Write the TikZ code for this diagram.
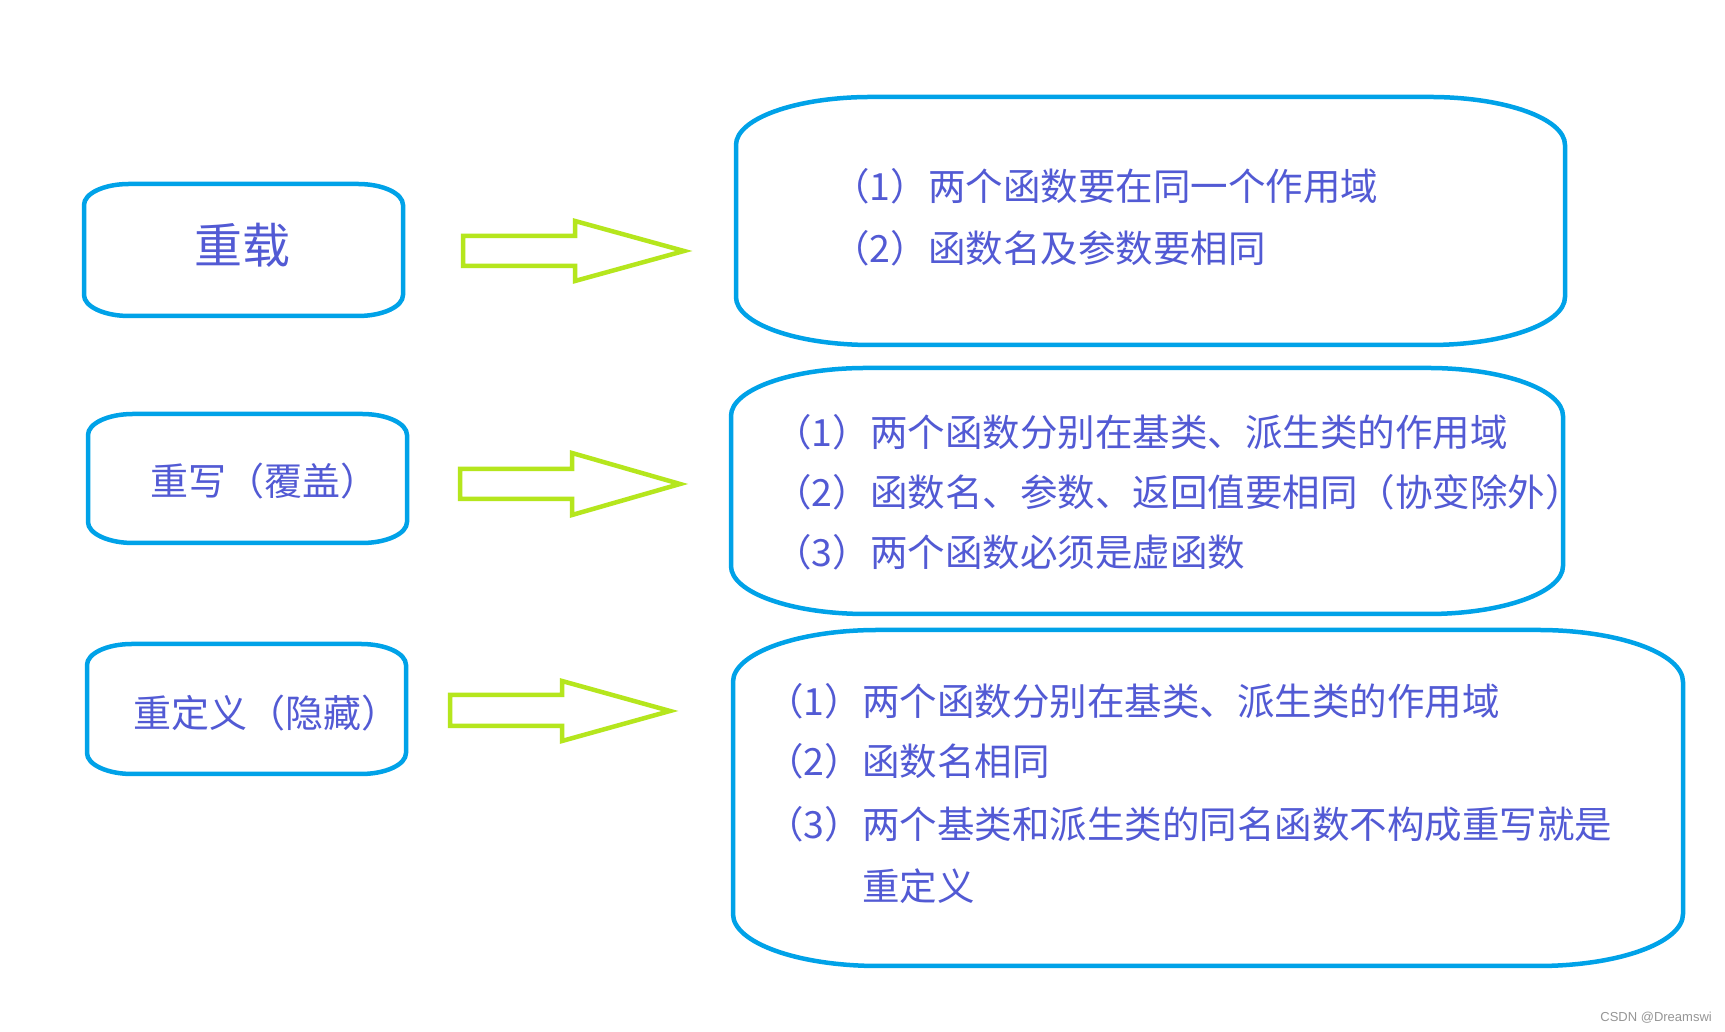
\documentclass[tikz,border=0pt]{standalone}
\usepackage{fontspec}
\newfontfamily\cjk{Noto Sans CJK SC}
\newfontfamily\wmfont{Liberation Sans}
\definecolor{boxblue}{RGB}{0,162,232}
\definecolor{arrowgreen}{RGB}{181,230,29}
\definecolor{txtblue}{RGB}{82,90,212}
\definecolor{wmgray}{RGB}{150,150,150}
% oval frame: x1 y1 x2 y2 (y measured downward) rx ry
\newcommand\ovalframe[6]{%
  \draw[boxline] ({#1+#5},{1032-#2}) -- ({#3-#5},{1032-#2})
    arc[start angle=90,end angle=0,x radius=#5pt,y radius=#6pt]
    -- ({#3},{1032-#4+#6})
    arc[start angle=0,end angle=-90,x radius=#5pt,y radius=#6pt]
    -- ({#1+#5},{1032-#4})
    arc[start angle=270,end angle=180,x radius=#5pt,y radius=#6pt]
    -- ({#1},{1032-#2-#6})
    arc[start angle=180,end angle=90,x radius=#5pt,y radius=#6pt]
    -- cycle;}
% block arrow: xl ytop ybot xhead yheadtop yheadbot xtip ytip
\newcommand\blockarrow[8]{%
  \draw[arrowline] (#1,{1032-#2}) -- (#4,{1032-#2}) -- (#4,{1032-#5})
    -- (#7,{1032-#8}) -- (#4,{1032-#6}) -- (#4,{1032-#3})
    -- (#1,{1032-#3}) -- cycle;}
\begin{document}
\begin{tikzpicture}[x=1pt,y=1pt,
  boxline/.style={draw=boxblue,line width=4.5pt},
  arrowline/.style={draw=arrowgreen,line width=4.5pt,line join=miter},
  txt/.style={text=txtblue,inner sep=0pt,anchor=west},
  bigB/.style={txt,font=\cjk\fontsize{37.5}{45}\selectfont},
  small/.style={txt,font=\cjk\fontsize{38}{45}\selectfont}]
\fill[white] (0,0) rectangle (1725,1032);
\useasboundingbox (0,0) rectangle (1725,1032);

% left frames
\ovalframe{84}{184}{403}{316}{45}{21}
\ovalframe{88}{414}{407}{543}{45}{21}
\ovalframe{87}{644}{406}{774}{45}{21}
% right frames
\ovalframe{736}{97}{1565}{345}{135}{48}
\ovalframe{731}{368}{1563}{614}{135}{48}
\ovalframe{733}{630}{1683}{966}{145}{52}

% arrows
\blockarrow{463}{236}{266}{575}{221}{281}{684}{251}
\blockarrow{460}{469}{499}{572}{453}{515}{680}{484}
\blockarrow{450}{695}{726}{562}{681}{741}{670}{711}

% left texts
\node[txt,anchor=center,font=\cjk\fontsize{48}{56}\selectfont] (t1) at (242,{1032-245}) {重载};
\node[small] (t2) at (150,{1032-481}) {重写（覆盖）};
\node[small] (t3) at (133,{1032-713}) {重定义（隐藏）};

% right texts
\node[bigB] (a1) at (832,{1032-186}) {（1）两个函数要在同一个作用域};
\node[bigB] (a2) at (832,{1032-248}) {（2）函数名及参数要相同};

\node[bigB] (b1) at (774,{1032-432}) {（1）两个函数分别在基类、派生类的作用域};
\node[bigB] (b2) at (774,{1032-492}) {（2）函数名、参数、返回值要相同（协变除外）};
\node[bigB] (b3) at (774,{1032-552}) {（3）两个函数必须是虚函数};

\node[bigB] (c1) at (766,{1032-701}) {（1）两个函数分别在基类、派生类的作用域};
\node[bigB] (c2) at (766,{1032-761}) {（2）函数名相同};
\node[bigB] (c3) at (766,{1032-824}) {（3）两个基类和派生类的同名函数不构成重写就是};
\node[bigB] (c4) at (766,{1032-886}) {\phantom{（3）}重定义};

% watermark
\node[text=wmgray,inner sep=0pt,anchor=east,font=\wmfont\fontsize{13}{15}\selectfont] (wm) at (1712,{1032-1018}) {CSDN @Dreamswi};
\end{tikzpicture}
\end{document}
